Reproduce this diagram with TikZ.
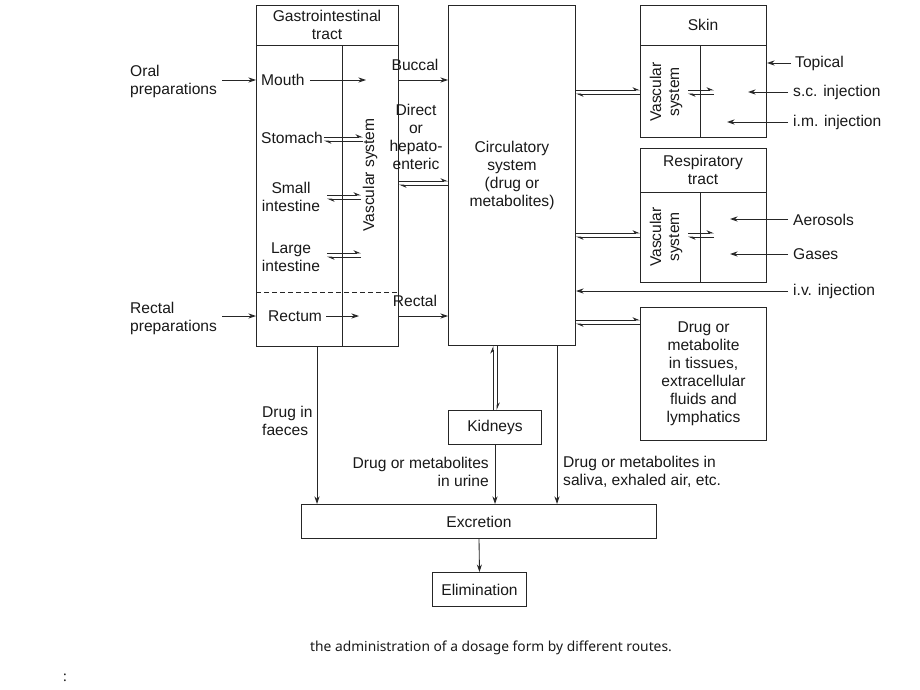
\documentclass[tikz,border=0pt]{standalone}
\usepackage{fontspec}
\setmainfont{Liberation Sans}
\newfontfamily\capfont{Noto Sans}
\usetikzlibrary{arrows.meta}
\begin{document}
\begin{tikzpicture}[x=1pt,y=-1pt,
  font=\fontsize{15.6}{18}\selectfont,
  every node/.style={text=black!90},
  box/.style={draw=black!85, line width=1pt, inner sep=0pt, anchor=north west, align=center},
  divider/.style={draw=black!85, line width=1pt},
  lbl/.style={inner sep=0pt, align=center},
  ar/.style={draw=black!85, -{Stealth[length=7.5pt,width=5pt]}, line width=0.85pt},
  hp/.style={draw=black!85, -{Stealth[harpoon,length=6.5pt,width=5.5pt]}, line width=0.8pt},
]
\useasboundingbox[fill=white] (0,0) rectangle (920,690);

% boxes
\node[box, minimum width=142, minimum height=341] (gi) at (256,5) {};
\node[box, minimum width=127, minimum height=340] (circ) at (448,5) {Circulatory\\system\\(drug or\\metabolites)};
\node[box, minimum width=126, minimum height=132] (skin) at (640,5) {};
\node[box, minimum width=126, minimum height=134] (resp) at (640,148) {};
\node[box, minimum width=126, minimum height=133] (tis) at (640,307) {Drug or\\metabolite\\in tissues,\\extracellular\\fluids and\\lymphatics};
\node[box, minimum width=93, minimum height=34] (kid) at (448,410) {Kidneys};
\node[box, minimum width=355, minimum height=34] (exc) at (301,504) {Excretion};
\node[box, minimum width=94, minimum height=34] (elim) at (432,572) {Elimination};

% GI tract internals
\draw[divider] (gi.west |- 0,46) -- (gi.east |- 0,46);
\draw[divider] (342,46) -- (342,0 |- gi.south);
\draw[divider, dashed, dash pattern=on 5pt off 3pt] (gi.west |- 0,292) -- (gi.east |- 0,292);
\node[lbl] (gititle) at (327,25) {Gastrointestinal\\tract};
\node[lbl, rotate=90] (gvs) at (370,175) {Vascular system};
\node[lbl, anchor=west] (mouth) at (261,80) {Mouth};
\node[lbl, anchor=west] (stom) at (261,138) {Stomach};
\node[lbl] (small) at (291,197) {Small\\intestine};
\node[lbl] (large) at (291,257) {Large\\intestine};
\node[lbl, anchor=west] (rectum) at (268,316) {Rectum};

\node[lbl, align=left, anchor=west] (oral) at (130,81) {Oral\\preparations};
\node[lbl, align=left, anchor=west] (rprep) at (130,318) {Rectal\\preparations};

\coordinate (mv) at (366,80);
\coordinate (rv) at (359,316);
\coordinate (oralstart) at (222,80);
\coordinate (rprepstart) at (222,316);
\draw[ar] (oralstart) -- (gi.west |- oralstart);
\draw[ar] (rprepstart) -- (gi.west |- rprepstart);
\draw[ar] ([xshift=5pt]mouth.east) -- (mv);
\draw[ar] ([xshift=4pt]rectum.east) -- (rv);

% exchanges inside GI
\draw[hp] ([xshift=1pt]stom.east |- 0,137) -- (363,137);
\draw[hp] (363,141) -- ([xshift=1pt]stom.east |- 0,141);
\draw[hp] (327,195) -- (361,195);
\draw[hp] (361,199) -- (327,199);
\draw[hp] (327,253) -- (361,253);
\draw[hp] (361,257) -- (327,257);

% GI -> circulatory
\draw[ar] (gi.east |- 0,80) -- (circ.west |- 0,80);
\node[lbl] (buccal) at (415,65) {Buccal};
\node[lbl] (direct) at (416,137) {Direct\\or\\hepato-\\enteric};
\draw[hp] (gi.east |- 0,181) -- (circ.west |- 0,181);
\draw[hp] (circ.west |- 0,185) -- (gi.east |- 0,185);
\draw[ar] (gi.east |- 0,316) -- (circ.west |- 0,316);
\node[lbl] (rectal) at (415,301) {Rectal};

% skin
\draw[divider] (skin.west |- 0,46) -- (skin.east |- 0,46);
\draw[divider] (700,46) -- (700,0 |- skin.south);
\node[lbl] (skintitle) at (703,25) {Skin};
\node[lbl, rotate=90] (svs) at (666,92) {Vascular\\system};
\draw[hp] (688,90) -- (714,90);
\draw[hp] (714,94) -- (688,94);
\draw[hp] (circ.east |- 0,90) -- (skin.west |- 0,90);
\draw[hp] (skin.west |- 0,94) -- (circ.east |- 0,94);
\node[lbl, anchor=west] (topical) at (795,63) {Topical};
\node[lbl, anchor=west] (sc) at (793,92) {s.c. injection};
\node[lbl, anchor=west] (im) at (793,122) {i.m. injection};
\coordinate (scend) at (748,92);
\coordinate (imend) at (727,122);
\draw[ar] ([xshift=-4pt]topical.west) -- (skin.east |- topical.west);
\draw[ar] ([xshift=-5pt]sc.west) -- (scend);
\draw[ar] ([xshift=-5pt]im.west) -- (imend);

% respiratory
\draw[divider] (resp.west |- 0,192) -- (resp.east |- 0,192);
\draw[divider] (700,192) -- (700,0 |- resp.south);
\node[lbl] (resptitle) at (703,170) {Respiratory\\tract};
\node[lbl, rotate=90] (rvs) at (666,237) {Vascular\\system};
\draw[hp] (688,233) -- (714,233);
\draw[hp] (714,237) -- (688,237);
\draw[hp] (circ.east |- 0,233) -- (resp.west |- 0,233);
\draw[hp] (resp.west |- 0,237) -- (circ.east |- 0,237);
\node[lbl, anchor=west] (aero) at (793,220) {Aerosols};
\node[lbl, anchor=west] (gas) at (793,254) {Gases};
\coordinate (aeroend) at (730,219);
\coordinate (gasend) at (730,254);
\draw[ar] ([xshift=-5pt]aero.west |- aeroend) -- (aeroend);
\draw[ar] ([xshift=-5pt]gas.west) -- (gasend);

% i.v.
\node[lbl, anchor=west] (iv) at (793,291) {i.v. injection};
\draw[ar] ([xshift=-5pt]iv.west) -- (circ.east |- iv.west);

% tissues
\draw[hp] (circ.east |- 0,320) -- (tis.west |- 0,320);
\draw[hp] (tis.west |- 0,324) -- (circ.east |- 0,324);

% kidneys
\draw[hp] (kid.north -| 493,0) -- (circ.south -| 493,0);
\draw[hp] (circ.south -| 497,0) -- (kid.north -| 497,0);
\draw[ar] (kid.south) -- (exc.north -| kid.south);
\draw[ar] (circ.south -| 557,0) -- (exc.north -| 557,0);
\draw[ar] (gi.south -| 317,0) -- (exc.north -| 317,0);
\node[lbl, align=left, anchor=west] (faeces) at (262,421) {Drug in\\faeces};
\node[lbl, align=right, anchor=east] (urine) at (489,472) {Drug or metabolites\\in urine};
\node[lbl, align=left, anchor=west] (saliva) at (563,472) {Drug or metabolites in\\saliva, exhaled air, etc.};

\draw[ar] (exc.south) -- (elim.north);

% caption
\node[lbl, font=\capfont\fontsize{13.8}{16}\selectfont] (cap) at (491,648) {the administration of a dosage form by different routes.};
\node[lbl, font=\capfont\fontsize{13.8}{16}\selectfont] (colon) at (65,678) {:};
\end{tikzpicture}
\end{document}
